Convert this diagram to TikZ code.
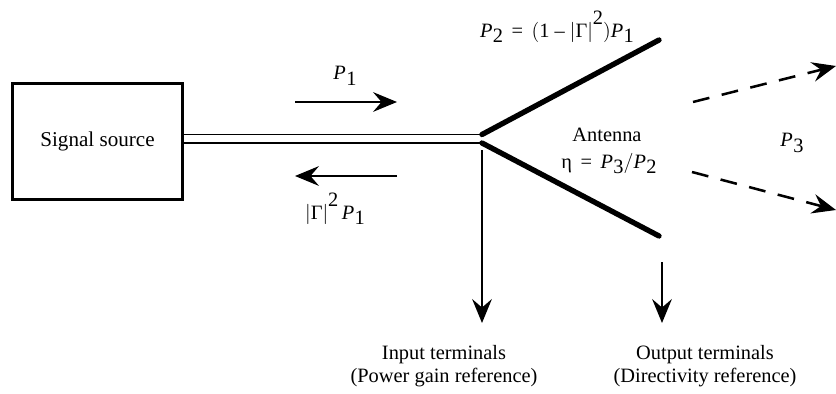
\documentclass[tikz,border=0pt]{standalone}
\usepackage{fontspec}
\setmainfont{Liberation Serif}
\usetikzlibrary{positioning, arrows.meta, calc}
\newcommand{\pw}[1]{\textit{P}\kern0.3pt\raisebox{-0.6ex}{#1}}

\begin{document}
\begin{tikzpicture}[
						x=0.025cm, y=-0.025cm,
						srcblock/.style={rectangle, draw, line width=1.6pt, minimum width=4.25cm, minimum height=2.9cm, align=center, font=\fontsize{15}{17}\selectfont},
						lbl/.style={inner sep=1pt, align=center, font=\fontsize{14.5}{16.5}\selectfont},
						tline/.style={draw, line width=0.8pt},
						arm/.style={draw, line width=3.8pt, line cap=round},
						line/.style={draw, -{Stealth[length=17pt, width=14pt, inset=6pt]}, line width=1.6pt},
						wave/.style={line, line width=1.8pt, dash pattern=on 12pt off 9pt}
						]
						\useasboundingbox (0,0) rectangle (836,394);
						
						\node [srcblock] (source) at (97.5,141.5) {Signal source};
						
						\coordinate (feedtop) at (482,134.5);
						\coordinate (feedbot) at (482,143);
						\coordinate (armtop) at (659,40);
						\coordinate (armbot) at (659,236);
						
						% transmission line
						\draw [tline] (source.east |- feedtop) -- (feedtop);
						\draw [tline] (source.east |- feedbot) -- (feedbot);
						
						% antenna arms
						\draw [arm] (feedtop) -- (armtop);
						\draw [arm] (feedbot) -- (armbot);
						
						% power flow on the line
						\coordinate (fwd_a) at (295,102);
						\coordinate (fwd_b) at (397,102);
						\draw [line] (fwd_a) -- (fwd_b);
						\node [lbl] (p1) at (345,76) {\pw{1}};
						
						\coordinate (back_a) at (397,176);
						\coordinate (back_b) at (295,176);
						\draw [line] (back_a) -- (back_b);
						\node [lbl] (refl) at (335,209) {$|$Γ$|$\raisebox{1.3ex}{2}\,\pw{1}};
						
						\node [lbl] (p2) at (557,27) {\pw{2}\, = \,$\Bigl($1 -- $|$Γ$|$\raisebox{1.3ex}{2}$\Bigr)$\pw{1}};
						\node [lbl] (ant) at (607,135) {Antenna};
						\node [lbl] (eff) at (609,163) {η\, = \,\pw{3}$\Big/$\pw{2}};
						
						% radiated power
						\coordinate (rad1_a) at (693,102);
						\coordinate (rad1_b) at (836,66);
						\coordinate (rad2_a) at (692,172);
						\coordinate (rad2_b) at (836,210);
						\draw [wave] (rad1_a) -- (rad1_b);
						\draw [wave] (rad2_a) -- (rad2_b);
						\node [lbl] (p3) at (792,143) {\pw{3}};
						
						% reference planes
						\node [lbl] (inref) at (444,366) {Input terminals\\(Power gain reference)};
						\node [lbl] (outref) at (705,366) {Output terminals\\(Directivity reference)};
						\coordinate (in_top) at (482,150);
						\coordinate (out_top) at (662,262);
						\draw [line] (in_top) -- (in_top |- 0,323);
						\draw [line] (out_top) -- (out_top |- 0,323);
					\end{tikzpicture}
\end{document}
